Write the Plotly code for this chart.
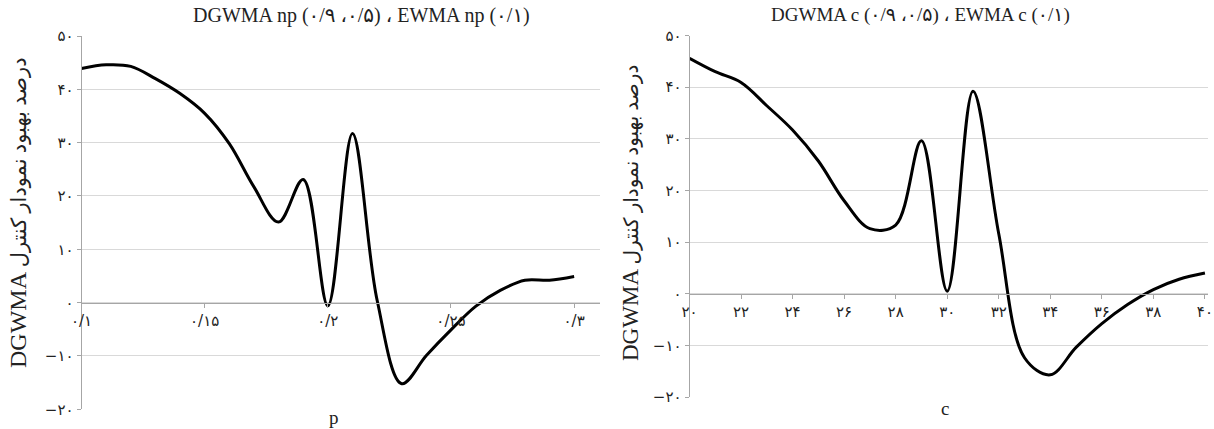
import plotly.graph_objects as go

# ---------------- data ----------------
p_values = [0.10, 0.11, 0.12, 0.13, 0.14, 0.15, 0.16, 0.17, 0.18, 0.19, 0.20,
            0.21, 0.22, 0.23, 0.24, 0.25, 0.26, 0.27, 0.28, 0.29, 0.30]
np_improvement = [43.9, 44.6, 44.3, 42.0, 39.2, 35.5, 29.8, 21.7, 15.1, 23.1, -0.6,
                  31.7, 0.5, -15.2, -9.9, -5.1, -0.7, 2.3, 4.2, 4.2, 4.9]

c_values = [20, 21, 22, 23, 24, 25, 26, 27, 28, 29, 30,
            31, 32, 33, 34, 35, 36, 37, 38, 39, 40]
c_improvement = [45.6, 43.0, 40.9, 36.4, 31.7, 25.7, 18.0, 12.6, 13.3, 29.6, 0.5,
                 39.2, 11.6, -12.4, -15.7, -10.4, -5.8, -2.1, 0.8, 2.8, 4.0]

y_tickvals = [-20, -10, 0, 10, 20, 30, 40, 50]
y_ticktext = ["−۲۰", "−۱۰", "۰", "۱۰", "۲۰", "۳۰", "۴۰", "۵۰"]

p_tickvals = [0.10, 0.15, 0.20, 0.25, 0.30]
p_ticktext = ["۰/۱", "۰/۱۵", "۰/۲", "۰/۲۵", "۰/۳"]

c_tickvals = [20, 22, 24, 26, 28, 30, 32, 34, 36, 38, 40]
c_ticktext = ["۲۰", "۲۲", "۲۴", "۲۶", "۲۸", "۳۰", "۳۲", "۳۴", "۳۶", "۳۸", "۴۰"]

title_left = "DGWMA np (۰/۹ ،۰/۵) ، EWMA np (۰/۱)"
title_right = "DGWMA c (۰/۹ ،۰/۵) ، EWMA c (۰/۱)"
y_title_latin = "DGWMA"
y_title_persian = "درصد بهبود نمودار کنترل"

# ---------------- figure ----------------
W, H = 1214, 429
FONT = "Liberation Serif, DejaVu Serif, DejaVu Sans, serif"

fig = go.Figure()
fig.add_trace(go.Scatter(x=p_values, y=np_improvement, mode="lines",
                         line=dict(color="black", width=3, shape="spline", smoothing=1.0),
                         xaxis="x", yaxis="y", showlegend=False, hoverinfo="x+y"))
fig.add_trace(go.Scatter(x=c_values, y=c_improvement, mode="lines",
                         line=dict(color="black", width=3, shape="spline", smoothing=1.0),
                         xaxis="x2", yaxis="y2", showlegend=False, hoverinfo="x+y"))

# pixel geometry
L1, R1, T1, B1 = 81.5, 600, 36, 409.3
L2, R2, T2, B2 = 689.5, 1207.5, 35.5, 397

def fx(px):
    return px / W

def fy(py):
    return 1 - py / H

yrange = [-20, 50]
zero1 = fy(B1) + (fy(T1) - fy(B1)) * (0 - yrange[0]) / (yrange[1] - yrange[0])
zero2 = fy(B2) + (fy(T2) - fy(B2)) * (0 - yrange[0]) / (yrange[1] - yrange[0])

tickfont = dict(family="DejaVu Sans, sans-serif", size=15, color="#222222")

common_y = dict(range=yrange, tickvals=y_tickvals, ticktext=y_ticktext,
                showgrid=True, gridcolor="#d9d9d9", gridwidth=1,
                showline=True, linecolor="#a6a6a6", linewidth=1,
                ticks="outside", ticklen=4, tickcolor="#a6a6a6",
                zeroline=False, tickfont=tickfont, fixedrange=True,
                automargin=False, ticklabeloverflow="allow")
common_x = dict(showgrid=False, showline=True, linecolor="#a6a6a6", linewidth=1,
                ticks="outside", ticklen=4, tickcolor="#a6a6a6",
                zeroline=False, tickfont=tickfont, anchor="free", fixedrange=True,
                automargin=False, ticklabeloverflow="allow")

fig.update_layout(
    width=W, height=H,
    margin=dict(l=0, r=0, t=0, b=0, autoexpand=False),
    paper_bgcolor="white", plot_bgcolor="white",
    xaxis=dict(domain=[fx(L1), fx(R1)], range=[0.10, 0.3105],
               tickvals=p_tickvals, ticktext=p_ticktext, position=zero1, **common_x),
    yaxis=dict(domain=[fy(B1), fy(T1)], anchor="x", **common_y),
    xaxis2=dict(domain=[fx(L2), fx(R2)], range=[20, 40.1],
                tickvals=c_tickvals, ticktext=c_ticktext, position=zero2, **common_x),
    yaxis2=dict(domain=[fy(B2), fy(T2)], anchor="x2", **common_y),
)

def ann(text, px, py, size, angle=0):
    return dict(text=text, x=fx(px), y=fy(py), xref="paper", yref="paper",
                xanchor="center", yanchor="middle", textangle=angle,
                showarrow=False, font=dict(family=FONT, size=size, color="#222222"))

def ytitle(persian_size):
    return (y_title_latin + " <span style='font-size:%dpx'>%s</span>"
            % (persian_size, y_title_persian))

annots = [
    ann(title_left, 361, 15, 20),
    ann(title_right, 920, 15, 19),
    ann(ytitle(21), 18, 213, 24, -90),
    ann(ytitle(20), 631, 213, 23, -90),
    ann("p", 334, 417, 19),
    ann("c", 945, 408, 19),
]
fig.update_layout(annotations=annots)

fig.write_html("out.html")
